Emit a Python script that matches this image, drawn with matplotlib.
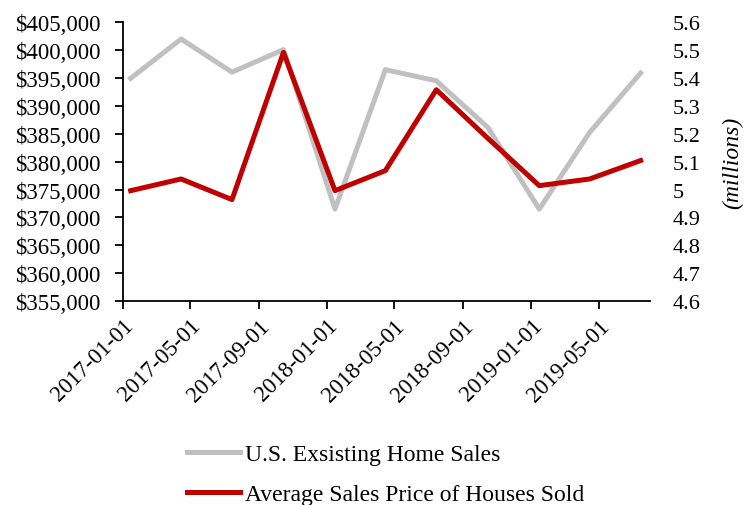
import numpy as np
import pandas as pd
import matplotlib
matplotlib.use('Agg')
import matplotlib.pyplot as plt
import matplotlib.dates as mdates
from matplotlib.ticker import FuncFormatter, MultipleLocator

# quarterly observations (plotted mid-month)
dates = pd.to_datetime(['2017-01-15', '2017-04-15', '2017-07-15', '2017-10-15',
                        '2018-01-15', '2018-04-15', '2018-07-15', '2018-10-15',
                        '2019-01-15', '2019-04-15', '2019-07-15'])
avg_price = [374800, 376900, 373200, 399600, 374800, 378400,
             392900, 384200, 375700, 376900, 380200]
home_sales = [5.399, 5.540, 5.421, 5.502, 4.930, 5.430,
              5.390, 5.223, 4.930, 5.205, 5.418]

sales_label = 'U.S. Exsisting Home Sales'
price_label = 'Average Sales Price of Houses Sold'

plt.rcParams['font.family'] = ['Liberation Serif', 'DejaVu Serif']
plt.rcParams['font.size'] = 16

fig = plt.figure(figsize=(7.49, 5.06), dpi=100)
ax = fig.add_axes([0.164, 0.403, 0.704, 0.551])
ax2 = ax.twinx()

l_sales, = ax2.plot(dates, home_sales, color='#c0c0c0', lw=3.6, label=sales_label)
l_price, = ax.plot(dates, avg_price, color='#c00000', lw=3.6, label=price_label)

# red line above the gray one
ax.set_zorder(ax2.get_zorder() + 1)
ax.patch.set_visible(False)

ax.set_xlim(pd.Timestamp('2017-01-01'), pd.Timestamp('2019-08-01'))
ax.set_ylim(355000, 405000)
ax.yaxis.set_major_locator(MultipleLocator(5000))
ax.yaxis.set_major_formatter(FuncFormatter(lambda v, p: '${:,.0f}'.format(v)))

ax2.set_ylim(4.6, 5.6)
ax2.yaxis.set_major_locator(MultipleLocator(0.1))
ax2.yaxis.set_major_formatter(FuncFormatter(lambda v, p: '%g' % round(v, 1)))
ax2.set_ylabel('(millions)', style='italic', fontsize=17, labelpad=16)
ax2.tick_params(axis='y', length=0, pad=16)

ax.xaxis.set_major_locator(mdates.MonthLocator(bymonth=[1, 5, 9]))
ax.xaxis.set_major_formatter(mdates.DateFormatter('%Y-%m-%d'))
plt.setp(ax.get_xticklabels(), rotation=45, ha='right', rotation_mode='anchor',
         fontsize=16.5)

for a in (ax, ax2):
    a.spines['top'].set_visible(False)
    a.spines['right'].set_visible(False)
ax2.spines['left'].set_visible(False)
ax2.spines['bottom'].set_visible(False)
ax.spines['left'].set_linewidth(1.3)
ax.spines['bottom'].set_linewidth(1.3)
ax.tick_params(axis='both', length=6, width=1.3, direction='out')
ax.tick_params(axis='y', pad=10, labelsize=16.5)
ax.tick_params(axis='x', pad=4)

fig.legend(handles=[l_sales, l_price], loc='upper left',
           bbox_to_anchor=(0.25, 0.122), frameon=False, fontsize=17,
           handlelength=2.25, handletextpad=0.2, labelspacing=0.8,
           borderaxespad=0, borderpad=0)

fig.savefig('out.png', dpi=100)
